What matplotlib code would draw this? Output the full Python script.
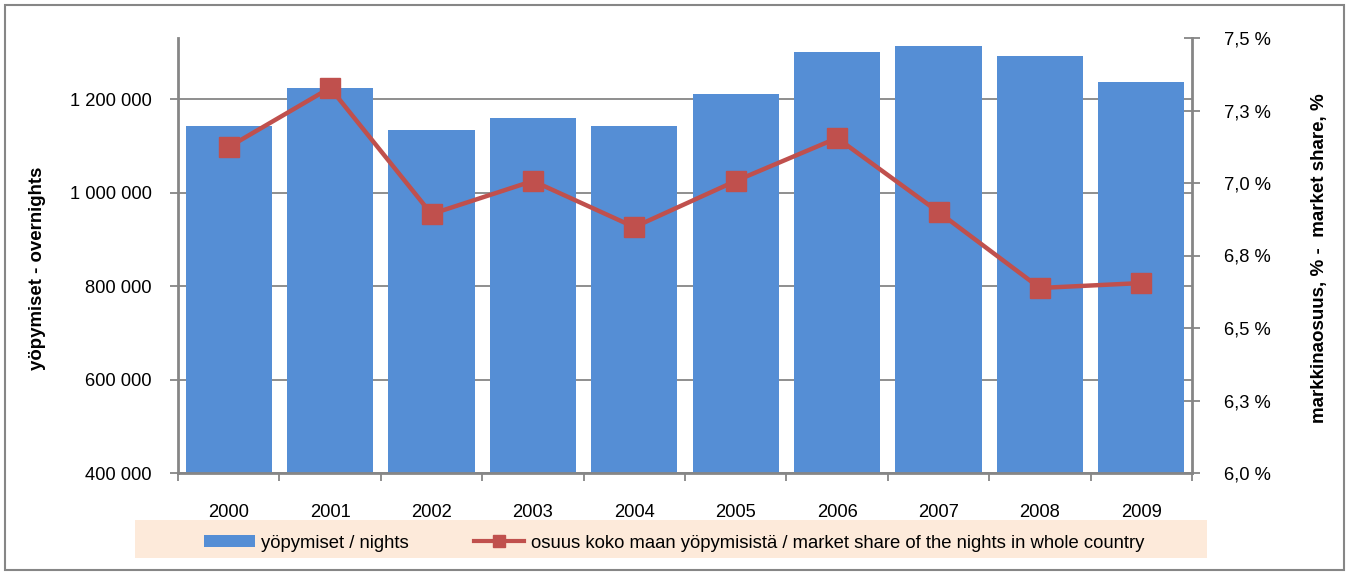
import matplotlib
matplotlib.use('Agg')
import matplotlib.pyplot as plt
from matplotlib.patches import Rectangle
from matplotlib.lines import Line2D
from matplotlib.patches import Patch
import numpy as np

plt.rcParams['font.family'] = ['Liberation Sans', 'DejaVu Sans']

# Data
years = ['2000', '2001', '2002', '2003', '2004', '2005', '2006', '2007', '2008', '2009']
nights = [1142000, 1223500, 1133700, 1159400, 1142000, 1210700, 1300500, 1313400, 1292000, 1236400]
share = [7.124, 7.328, 6.893, 7.007, 6.848, 7.007, 7.155, 6.900, 6.638, 6.655]

left_ticks = [400000, 600000, 800000, 1000000, 1200000]
left_labels = ['400 000', '600 000', '800 000', '1 000 000', '1 200 000']
right_ticks = [6.0, 6.25, 6.5, 6.75, 7.0, 7.25, 7.5]
right_labels = ['6,0 %', '6,3 %', '6,5 %', '6,8 %', '7,0 %', '7,3 %', '7,5 %']

bar_color = '#558ED5'
line_color = '#C0504D'
axis_grey = '#868686'
fs = 13.2

fig = plt.figure(figsize=(13.49, 5.74), dpi=100)
W, H = 1349, 574
ax = fig.add_axes([178 / W, 1 - 473 / H, (1192 - 178) / W, (473 - 38) / H])
ax2 = ax.twinx()

x = np.arange(len(years))
ax.bar(x, nights, width=0.85, color=bar_color, zorder=2)
ax.set_xlim(-0.5, len(years) - 0.5)
ax.set_ylim(400000, 1330500)
ax.set_yticks(left_ticks)
ax.set_yticklabels(left_labels, fontsize=fs)
ax.yaxis.grid(True, color=axis_grey, linewidth=1.3, zorder=0)
ax.set_axisbelow(True)

ax.set_xticks(x)
ax.set_xticklabels(years, fontsize=fs)
ax.set_xticks(np.arange(len(years) + 1) - 0.5, minor=True)
ax.tick_params(axis='x', which='major', length=0, pad=22)
ax.tick_params(axis='x', which='minor', length=6, width=1.3, color=axis_grey, direction='out')
ax.tick_params(axis='y', length=6, width=1.3, color=axis_grey, direction='out', pad=13)

for s in ['top', 'right']:
    ax.spines[s].set_visible(False)
for s in ['left', 'bottom']:
    ax.spines[s].set_color(axis_grey)
    ax.spines[s].set_linewidth(2)

ax2.plot(x, share, color=line_color, linewidth=3.2, marker='s', markersize=14,
         markerfacecolor=line_color, markeredgecolor=line_color, zorder=5)
ax2.set_ylim(6.0, 7.5)
ax2.set_yticks(right_ticks)
ax2.set_yticklabels(right_labels, fontsize=fs)
ax2.tick_params(axis='y', length=12, width=1.3, color=axis_grey, direction='inout', pad=17)
for s in ['top', 'left', 'bottom']:
    ax2.spines[s].set_visible(False)
ax2.spines['right'].set_color(axis_grey)
ax2.spines['right'].set_linewidth(2)

ax.set_ylabel('yöpymiset - overnights', fontsize=13.4, fontweight='bold')
ax.yaxis.set_label_coords((46 - 178) / (1192 - 178), (473 - 268) / 435)
ax2.set_ylabel('markkinaosuus, % -  market share, %', fontsize=13.5, fontweight='bold')
ax2.yaxis.set_label_coords((1311 - 178) / (1192 - 178), (473 - 258) / 435)

# legend background and outer border
fig.patches.append(Rectangle((135 / W, 1 - 558 / H), (1207 - 135) / W, 38 / H,
                             transform=fig.transFigure, facecolor='#FDEADA',
                             edgecolor='none', zorder=0))
fig.patches.append(Rectangle((5 / W, 1 - 570 / H), (1344 - 5) / W, 565 / H,
                             transform=fig.transFigure, facecolor='none',
                             edgecolor=axis_grey, linewidth=1.5, zorder=0))

handles = [Patch(facecolor=bar_color, edgecolor='none'),
           Line2D([0], [0], color=line_color, linewidth=3, marker='s', markersize=9)]
labels = ['yöpymiset / nights',
          'osuus koko maan yöpymisistä / market share of the nights in whole country']
fig.legend(handles, labels, loc='center', bbox_to_anchor=(674 / W, 1 - 543 / H),
           ncol=2, frameon=False, fontsize=13.3, handlelength=2.75, handleheight=0.65,
           columnspacing=3.5, handletextpad=0.35)

fig.savefig('out.png', dpi=100)
